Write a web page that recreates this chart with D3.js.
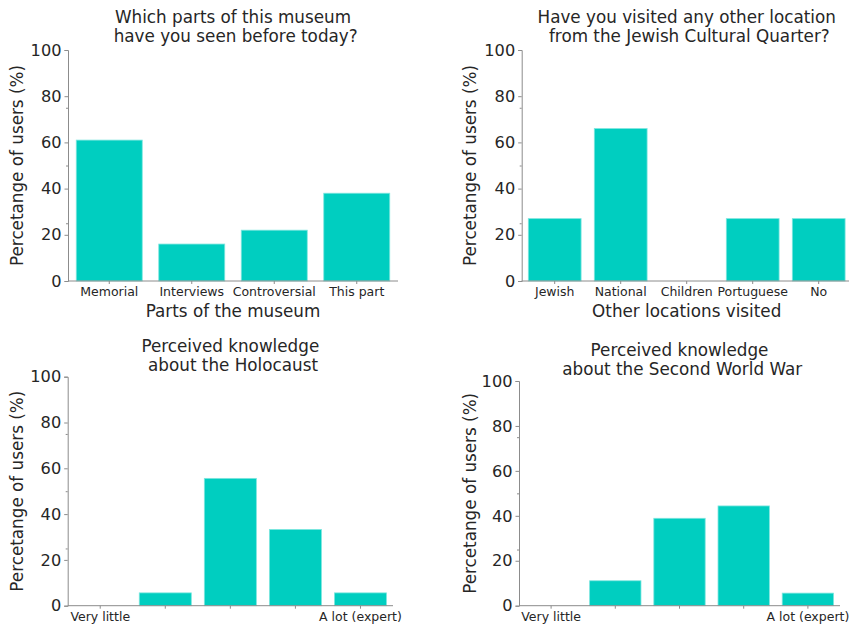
<!DOCTYPE html>
<html>
<head>
<meta charset="utf-8">
<script src="https://cdn.jsdelivr.net/npm/d3@7/dist/d3.min.js"></script>
<style>
  html, body { margin: 0; padding: 0; background: #fff; }
  svg { display: block; font-family: "DejaVu Sans", sans-serif; }
</style>
</head>
<body>
<svg id="chart" width="849" height="626"></svg>
<script>
// Survey results (percentage of users)
const partsCategories = ["Memorial", "Interviews", "Controversial", "This part"];
const partsValues = [61, 16, 22, 38];

const locationCategories = ["Jewish", "National", "Children", "Portuguese", "No"];
const locationValues = [27, 66, 0, 27, 27];

const knowledgeLevels = ["1", "2", "3", "4", "5"];
const knowledgeTickLabels = ["Very little", "", "", "", "A lot (expert)"];
const holocaustValues = [0, 5.6, 55.6, 33.3, 5.6];
const wwiiValues = [0, 11.1, 38.9, 44.4, 5.6];

const yTicks = [0, 20, 40, 60, 80, 100];
const yMinorTicks = [25, 50, 75];

const barColor = "#00cec0";
const textColor = "#262626";
const spineColor = "#8c8c8c";

const panels = [
  {
    title: ["Which parts of this museum", " have you seen before today?"],
    titleY: 17,
    xLabel: "Parts of the museum",
    categories: partsCategories, tickLabels: partsCategories, values: partsValues,
    x0: 68, x1: 398, yTop: 50, yBottom: 281, yLabelX: 17
  },
  {
    title: ["Have you visited any other location", " from the Jewish Cultural Quarter?"],
    titleY: 17,
    xLabel: "Other locations visited",
    categories: locationCategories, tickLabels: locationCategories, values: locationValues,
    x0: 521.7, x1: 851.7, yTop: 50, yBottom: 281, yLabelX: 470
  },
  {
    title: ["Perceived knowledge", " about the Holocaust"],
    titleY: 346,
    xLabel: null,
    categories: knowledgeLevels, tickLabels: knowledgeTickLabels, values: holocaustValues,
    x0: 67.7, x1: 393, yTop: 376.7, yBottom: 605.7, yLabelX: 17
  },
  {
    title: ["Perceived knowledge", " about the Second World War"],
    titleY: 350,
    xLabel: null,
    categories: knowledgeLevels, tickLabels: knowledgeTickLabels, values: wwiiValues,
    x0: 519, x1: 840, yTop: 381, yBottom: 605.7, yLabelX: 470
  }
];

const svg = d3.select("#chart");

panels.forEach(p => {
  const g = svg.append("g");

  const x = d3.scaleBand()
    .domain(p.categories)
    .range([p.x0, p.x1])
    .paddingInner(0.2)
    .paddingOuter(0.1);

  const y = d3.scaleLinear().domain([0, 100]).range([p.yBottom, p.yTop]);

  // bars
  g.selectAll("rect.bar")
    .data(p.values)
    .join("rect")
    .attr("class", "bar")
    .attr("x", (d, i) => x(p.categories[i]))
    .attr("width", x.bandwidth())
    .attr("y", d => y(d))
    .attr("height", d => y(0) - y(d))
    .attr("fill", barColor)
    .attr("stroke", d => d > 0 ? "#7fe6df" : "none")
    .attr("stroke-width", 0.8);

  // y axis (major + minor ticks)
  const yAxis = g.append("g")
    .attr("transform", `translate(${p.x0},0)`)
    .call(d3.axisLeft(y).tickValues(yTicks).tickSize(3.5).tickPadding(3).tickFormat(d3.format("d")));
  yAxis.select(".domain").attr("stroke", spineColor).attr("stroke-width", 1);
  yAxis.selectAll(".tick line").attr("stroke", spineColor);
  yAxis.selectAll(".tick text")
    .attr("fill", textColor)
    .attr("font-size", "16.2px")
    .attr("font-family", "DejaVu Sans");

  const yMinor = g.append("g")
    .attr("transform", `translate(${p.x0},0)`)
    .call(d3.axisLeft(y).tickValues(yMinorTicks).tickSize(2).tickFormat(""));
  yMinor.select(".domain").remove();
  yMinor.selectAll(".tick line").attr("stroke", spineColor);

  // x axis
  const xAxis = g.append("g")
    .attr("transform", `translate(0,${p.yBottom})`)
    .call(d3.axisBottom(x).tickSize(3).tickPadding(3.5).tickSizeOuter(0)
      .tickFormat((d, i) => p.tickLabels[i]));
  xAxis.select(".domain")
    .attr("stroke", spineColor)
    .attr("d", `M${p.x0},0H${p.x1}`);
  xAxis.selectAll(".tick line").attr("stroke", spineColor);
  xAxis.selectAll(".tick text")
    .attr("fill", textColor)
    .attr("font-size", "12.5px")
    .attr("font-family", "DejaVu Sans");

  // title
  const cx = (p.x0 + p.x1) / 2;
  const title = g.append("text")
    .attr("text-anchor", "middle")
    .attr("fill", textColor)
    .attr("font-size", "16.8px")
    .style("white-space", "pre");
  p.title.forEach((line, i) => {
    title.append("tspan")
      .attr("x", cx)
      .attr("y", p.titleY + i * 18.8)
      .attr("dominant-baseline", "central")
      .text(line);
  });

  // axis labels
  g.append("text")
    .attr("transform", `translate(${p.yLabelX},${(p.yTop + p.yBottom) / 2}) rotate(-90)`)
    .attr("text-anchor", "middle")
    .attr("dominant-baseline", "central")
    .attr("fill", textColor)
    .attr("font-size", "16.8px")
    .text("Percetange of users (%)");

  if (p.xLabel) {
    g.append("text")
      .attr("x", cx)
      .attr("y", p.yBottom + 29.5)
      .attr("text-anchor", "middle")
      .attr("dominant-baseline", "central")
      .attr("fill", textColor)
      .attr("font-size", "16.8px")
      .text(p.xLabel);
  }
});
</script>
</body>
</html>
